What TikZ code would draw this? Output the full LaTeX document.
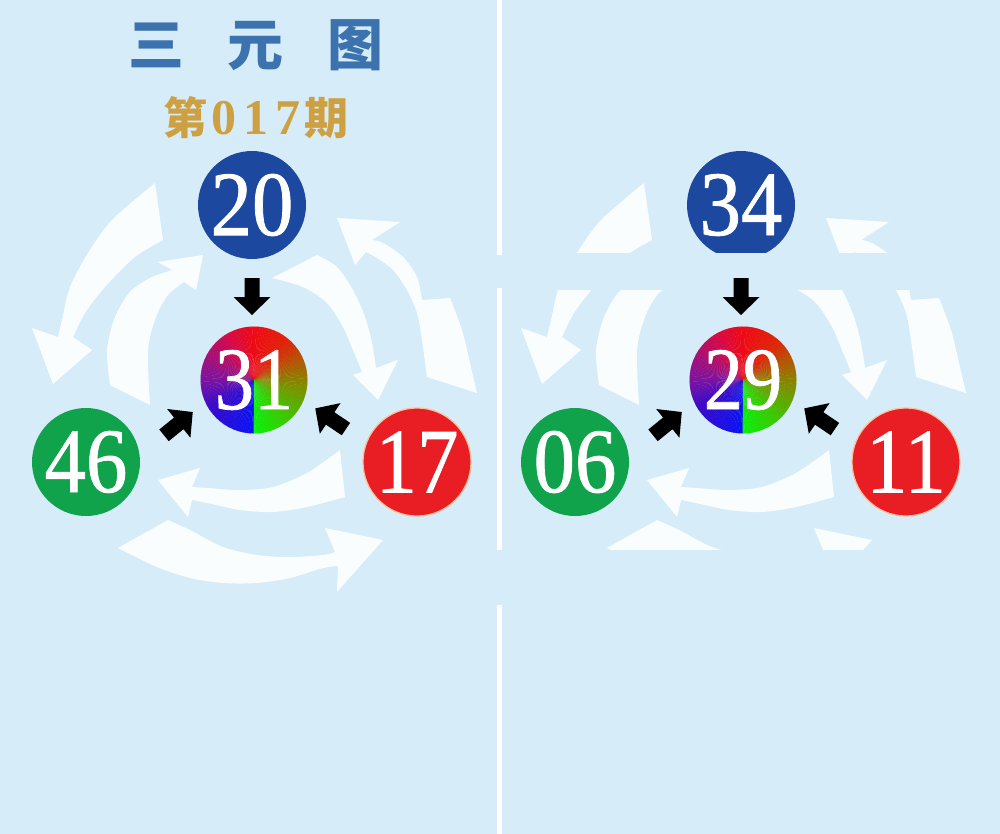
\documentclass[tikz,border=0pt]{standalone}
\usepackage{fontspec}
\setmainfont{Liberation Serif}
\newfontfamily\cjk{Noto Sans CJK SC}
\newfontfamily\digitfont[FakeBold=0.9]{Liberation Serif}
\usetikzlibrary{calc}

\definecolor{bg}{RGB}{214,236,249}
\definecolor{ballblue}{RGB}{28,72,160}
\definecolor{ballgreen}{RGB}{16,163,76}
\definecolor{ballred}{RGB}{232,30,36}
\definecolor{rimred}{RGB}{255,190,150}
\definecolor{titleblue}{RGB}{60,115,175}
\definecolor{gold}{RGB}{205,160,65}
\definecolor{cA}{RGB}{10,20,245}
\definecolor{cB}{RGB}{60,10,200}
\definecolor{cC}{RGB}{125,20,160}
\definecolor{cD}{RGB}{215,10,70}
\definecolor{cE}{RGB}{240,10,20}
\definecolor{cF}{RGB}{225,35,10}
\definecolor{cG}{RGB}{140,130,0}
\definecolor{cH}{RGB}{60,200,0}
\definecolor{cI}{RGB}{10,240,10}

\tikzset{
  ball/.style={circle, minimum size=108pt, inner sep=0pt, text=white,
    font=\digitfont\fontsize{92}{92}\selectfont},
  cball/.style={circle, minimum size=106pt, inner sep=0pt, text=white,
    font=\digitfont\fontsize{89}{89}\selectfont},
  warr/.style={fill=white, opacity=0.9},
  blk/.style={fill=black},
  divider/.style={fill=white},
}

\newcommand\whitearrows{%
  % outer: 20 -> 46
  \fill[warr] plot[smooth] coordinates {(155,183) (112,220) (88,253) (70,287) (62,320) (58,337)}
    -- (32,328) -- (53,384) -- (92,350)
    -- plot[smooth] coordinates {(73,337) (85,313) (105,287) (135,257) (163,240)} -- cycle;
  % outer: 46 -> 17
  \fill[warr] plot[smooth] coordinates {(168,520) (190,530) (223,547) (257,555) (290,557) (323,555) (335,552)}
    -- (325,528) -- (383,540) -- (337,592)
    -- plot[smooth] coordinates {(338,566) (323,568) (290,578) (257,583) (223,583) (190,578) (157,567) (118,548)} -- cycle;
  % outer: 17 -> 20
  \fill[warr] plot[smooth] coordinates {(477,393) (470,363) (462,330) (450,298)}
    -- plot[smooth] coordinates {(422,300) (417,277) (403,257) (383,243) (372,240)}
    -- (400,222) -- (337,218) -- (355,265)
    -- plot[smooth] coordinates {(366,252) (377,258) (393,270) (407,290) (417,313) (422,340) (427,377)} -- cycle;
  % inner: 46 -> 20
  \fill[warr] plot[smooth] coordinates {(110,385) (107,350) (115,317) (130,292) (150,278) (172,270)}
    -- (158,262) -- (203,255) -- (196,290)
    -- plot[smooth] coordinates {(184,282) (168,295) (156,317) (148,350) (150,405)} -- cycle;
  % inner: 20 -> 17
  \fill[warr] plot[smooth] coordinates {(317,255) (337,267) (353,290) (365,317) (372,343) (376,368)}
    -- (398,360) -- (378,400) -- (353,375)
    -- plot[smooth] coordinates {(362,372) (353,350) (343,327) (327,303) (303,287) (272,278)} -- cycle;
  % inner: 17 -> 46
  \fill[warr] plot[smooth] coordinates {(340,450) (307,473) (273,487) (240,490) (207,488) (192,487)}
    -- (200,468) -- (158,480) -- (188,517)
    -- plot[smooth] coordinates {(192,500) (207,503) (240,510) (273,512) (307,507) (345,497)} -- cycle;
}

\newcommand\conic[2]{%
  \begin{scope}
    \clip (#1,#2) circle[radius=53.5pt];
    \foreach \ta/\tb/\ca/\cb in {0/60/cA/cB, 60/90/cB/cC, 90/150/cC/cD, 150/180/cD/cE,
                                 180/220/cE/cF, 220/270/cF/cG, 270/320/cG/cH, 320/360/cH/cI} {
      \pgfmathtruncatemacro\tn{\ta+2}
      \pgfmathtruncatemacro\te{\tb-2}
      \foreach \t in {\ta,\tn,...,\te} {
        \pgfmathsetmacro\pct{100*(\t+1-\ta)/(\tb-\ta)}
        \pgfmathsetmacro\pa{\t+90}
        \pgfmathsetmacro\pb{\t+92.4}
        \colorlet{cur}{\cb!\pct!\ca}
        \fill[cur] (#1,#2) -- +(\pa:57) -- +(\pb:57) -- cycle;
      }
    }
  \end{scope}
}

\newcommand\topball[2]{%
  \node[ball, fill=ballblue] (top#1) at (252,205) {\scalebox{0.9}[1]{#2}};
}

\newcommand\rest[4]{%
  \conic{254}{380}
  \node[cball] (mid#1) at (254,380) {\scalebox{0.88}[1]{#2}};
  \node[ball, fill=ballgreen] (left#1) at (86,462) {\scalebox{0.9}[1]{#3}};
  \node[ball, fill=ballred, draw=rimred, line width=1.2pt] (right#1) at (417,462) {\scalebox{0.9}[1]{#4}};
  \fill[blk, shift={(252,296)}, rotate=-90]
    (-18,-7.5) -- (1,-7.5) -- (1,-18.5) -- (19,0) -- (1,18.5) -- (1,7.5) -- (-18,7.5) -- cycle;
  \fill[blk, shift={(178,424)}, rotate=39]
    (-18,-7.5) -- (1,-7.5) -- (1,-18.5) -- (19,0) -- (1,18.5) -- (1,7.5) -- (-18,7.5) -- cycle;
  \fill[blk, shift={(331,419)}, rotate=146]
    (-18,-7.5) -- (1,-7.5) -- (1,-18.5) -- (19,0) -- (1,18.5) -- (1,7.5) -- (-18,7.5) -- cycle;
}

\begin{document}
\begin{tikzpicture}[x=1pt, y=-1pt]
  \useasboundingbox (0,0) rectangle (1000,834);
  \fill[bg] (0,0) rectangle (1000,834);

  % divider
  \fill[divider] (497,0) rectangle (502,255);
  \fill[divider] (497,288) rectangle (502,550);
  \fill[divider] (497,605) rectangle (502,834);

  % title
  \node[text=titleblue, inner sep=0pt, font=\cjk\bfseries\fontsize{56}{56}\selectfont]
    (title) at (256,45) {三\hspace{44pt}元\hspace{44pt}图};
  \node[text=gold, inner sep=0pt, font=\cjk\bfseries\fontsize{44}{44}\selectfont]
    (issue) at (256,118) {第\hspace{4pt}{\rmfamily\bfseries\fontsize{50}{50}\selectfont 0\hspace{7pt}1\hspace{7pt}7}\hspace{4pt}期};

  % left diagram
  \whitearrows
  \topball{L}{20}
  \rest{L}{31}{46}{17}

  % right diagram
  \begin{scope}[shift={(489,0)}]
    \whitearrows
    \topball{R}{34}
  \end{scope}
  \fill[bg] (503,253) rectangle (1000,290);
  \fill[bg] (503,550) rectangle (1000,834);
  \begin{scope}[shift={(489,0)}]
    \rest{R}{29}{06}{11}
  \end{scope}
\end{tikzpicture}
\end{document}
